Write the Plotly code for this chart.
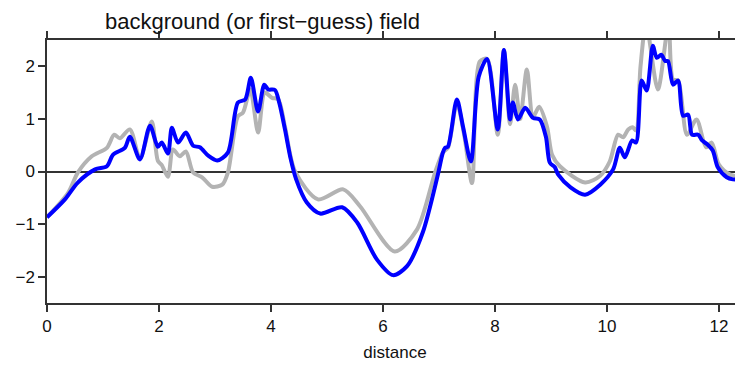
import plotly.graph_objects as go

# background (first-guess) field, gray
bg_x = [0, 0.38, 0.55, 0.80, 1.07, 1.20, 1.30, 1.48, 1.66, 1.87, 1.98, 2.05, 2.16, 2.25, 2.37, 2.48,
        2.61, 2.77, 2.95, 3.13, 3.23, 3.41, 3.50, 3.63, 3.77, 3.89, 4.02, 4.13, 4.25, 4.43, 4.84,
        5.29, 5.59, 6.21, 6.61, 6.93, 7.07, 7.16, 7.32, 7.45, 7.59, 7.73, 7.86, 8.05, 8.16, 8.27,
        8.36, 8.45, 8.57, 8.68, 8.79, 8.93, 9.02, 9.16, 9.61, 9.88, 10.05, 10.20, 10.29, 10.38,
        10.46, 10.52, 10.60, 10.70, 10.91, 11.10, 11.18, 11.27, 11.43, 11.60, 11.77, 11.87, 12.00,
        12.20, 12.43]
bg_y = [-0.87, -0.40, -0.02, 0.29, 0.45, 0.70, 0.63, 0.80, 0.25, 0.95, 0.20, 0.12, -0.10, 0.42, 0.29, 0.38,
        -0.02, -0.11, -0.29, -0.25, -0.02, 1.05, 1.12, 1.56, 0.74, 1.50, 1.40, 1.37, 0.85, 0.00, -0.53,
        -0.34, -0.66, -1.52, -1.10, -0.02, 0.36, 0.45, 1.30, 0.70, -0.22, 2.09, 2.14, 0.70, 2.31, 0.90,
        1.65, 1.00, 1.94, 1.04, 1.23, 0.85, 0.32, 0.10, -0.21, -0.08, 0.19, 0.70, 0.65, 0.80,
        0.84, 0.78, 2.00, 2.80, 1.56, 2.80, 1.75, 1.73, 0.70, 0.99, 0.46, 0.55, 0.13,
        -0.06, -0.10]

# analysis field, blue
an_x = [0, 0.32, 0.55, 0.86, 1.07, 1.18, 1.39, 1.48, 1.66, 1.84, 1.98, 2.05, 2.16, 2.23, 2.34, 2.48,
        2.61, 2.73, 2.88, 3.04, 3.23, 3.41, 3.54, 3.64, 3.77, 3.88, 3.95, 4.07, 4.15, 4.25, 4.35,
        4.45, 4.64, 4.88, 5.27, 5.54, 5.89, 6.18, 6.43, 6.71, 6.98, 7.07, 7.11, 7.16, 7.32, 7.43,
        7.57, 7.71, 7.86, 8.05, 8.16, 8.27, 8.32, 8.41, 8.54, 8.68, 8.80, 8.91, 8.98, 9.07, 9.13,
        9.35, 9.61, 9.88, 10.11, 10.23, 10.32, 10.45, 10.52, 10.62, 10.71, 10.82, 10.89, 10.97,
        11.04, 11.09, 11.18, 11.27, 11.36, 11.45, 11.52, 11.63, 11.70, 11.80, 11.89, 11.98, 12.14,
        12.25, 12.43]
an_y = [-0.87, -0.53, -0.21, 0.04, 0.10, 0.32, 0.45, 0.66, 0.23, 0.87, 0.47, 0.55, 0.34, 0.83, 0.55, 0.74,
        0.49, 0.46, 0.30, 0.21, 0.36, 1.31, 1.37, 1.78, 1.14, 1.65, 1.56, 1.55, 1.30, 0.80, 0.25,
        -0.15, -0.59, -0.80, -0.68, -0.97, -1.67, -1.97, -1.80, -1.16, -0.06, 0.36, 0.45, 0.47, 1.37, 0.85,
        0.19, 1.80, 2.14, 0.80, 2.31, 0.99, 1.31, 0.99, 1.21, 1.02, 0.99, 0.66, 0.17, 0.08, -0.06,
        -0.30, -0.44, -0.25, 0.04, 0.45, 0.27, 0.59, 0.55, 1.73, 1.54, 2.39, 2.16, 2.22,
        2.10, 2.10, 1.65, 1.73, 1.06, 1.08, 0.70, 0.70, 0.59, 0.51, 0.40, 0.08, -0.11,
        -0.15, -0.15]

x_ticks = [0, 2, 4, 6, 8, 10, 12]
y_ticks = [-2, -1, 0, 1, 2]

fig = go.Figure()
fig.add_trace(go.Scatter(x=bg_x, y=bg_y, mode="lines",
                         line=dict(color="#b3b3b3", width=4, shape="spline", smoothing=0.8),
                         showlegend=False, hoverinfo="skip"))
fig.add_trace(go.Scatter(x=an_x, y=an_y, mode="lines",
                         line=dict(color="#0000ff", width=4, shape="spline", smoothing=0.8),
                         showlegend=False, hoverinfo="skip"))

FAM = "Liberation Sans, Arial, sans-serif"
axis_font = dict(family=FAM, size=17, color="#111")

# the page body adds an 8px margin, so the figure is sized 735x358
W, H = 735, 358
fig.update_layout(
    width=W, height=H,
    margin=dict(l=39, r=0, t=32, b=63),
    paper_bgcolor="white", plot_bgcolor="white",
    font=dict(family=FAM, color="#111"),
    title=dict(text="background (or first\u2212guess) field", x=97/W, xanchor="left",
               y=1 - 13/H, yanchor="middle", font=dict(size=22, color="#111")),
    xaxis=dict(range=[0, 12.43], tickvals=x_ticks, ticks="outside", ticklen=7, tickwidth=1.5,
               tickcolor="#333", showline=True, linecolor="#333", linewidth=1.5, mirror="ticks",
               showgrid=False, zeroline=False, tickfont=axis_font,
               title=dict(text="distance", font=dict(family=FAM, size=17, color="#111"), standoff=11)),
    yaxis=dict(range=[-2.5, 2.5], tickvals=y_ticks, ticks="outside", ticklen=7, tickwidth=1.5,
               tickcolor="#333", showline=True, linecolor="#333", linewidth=1.5, mirror=False,
               showgrid=False, zeroline=True, zerolinecolor="#333", zerolinewidth=1.5,
               tickfont=axis_font),
)

fig.write_html("out.html")
